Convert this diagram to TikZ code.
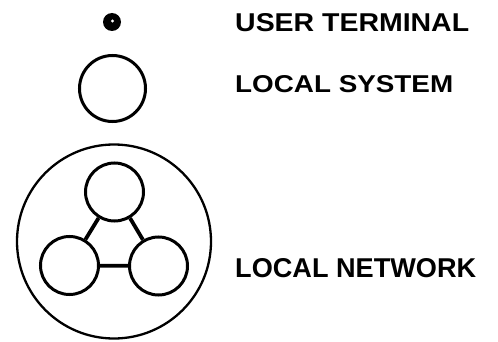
\documentclass[tikz,border=0pt]{standalone}
\usepackage{fontspec}
\setmainfont{Liberation Sans}
\begin{document}
\begin{tikzpicture}[x=1pt,y=-1pt,
  sys/.style={circle,draw,line width=3pt,minimum size=#1,inner sep=0pt},
  lbl/.style={anchor=west,inner sep=0pt},
  link/.style={line width=3.8pt}]
\useasboundingbox (0,0) rectangle (498,342);
% user terminal
\node[circle,fill=black,minimum size=18pt,inner sep=0pt] (ut) at (112,22) {};
\fill[white] (112.5,21) circle (1.6);
% local system
\node[sys=66pt] (ls) at (112.5,88.5) {};
% local network
\node[circle,draw,line width=2.3pt,minimum size=194pt,inner sep=0pt] (net) at (114,241.5) {};
\node[sys=58pt] (n1) at (114.5,192) {};
\node[sys=58pt] (n2) at (69.5,265.5) {};
\node[sys=58pt] (n3) at (158.5,266) {};
\draw[link] (n1) -- (n2);
\draw[link] (n2) -- (n3);
\draw[link] (n1) -- (n3);
% labels
\node[lbl] (t1) at (235,22.5) {\resizebox{234pt}{18pt}{\bfseries USER TERMINAL}};
\node[lbl] (t2) at (235,84) {\resizebox{218pt}{17pt}{\bfseries LOCAL SYSTEM}};
\node[lbl] (t3) at (235,268) {\resizebox{241pt}{19pt}{\bfseries LOCAL NETWORK}};
\end{tikzpicture}
\end{document}
